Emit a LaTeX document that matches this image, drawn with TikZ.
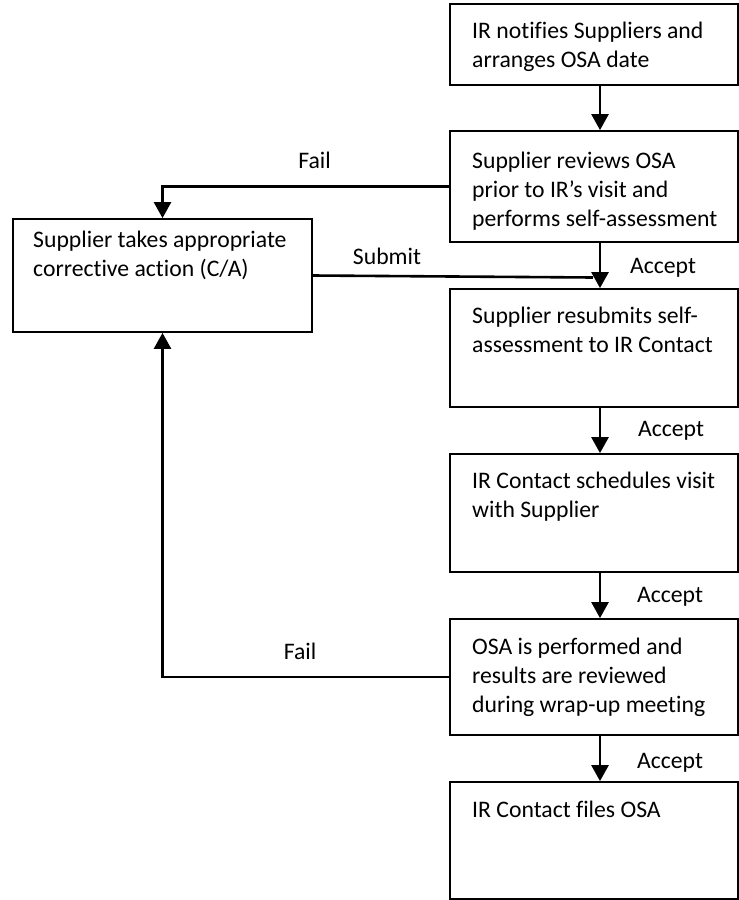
\documentclass[tikz,border=0pt]{standalone}
\usepackage{fontspec}
\setmainfont{Carlito}[Ligatures=NoCommon]
\usetikzlibrary{arrows.meta}
\begin{document}
\begin{tikzpicture}[x=1pt,y=-1pt,
  box/.style={draw,line width=1.8pt,rectangle,inner sep=0pt},
  rbox/.style={box,minimum width=288pt},
  txt/.style={anchor=north west,inner sep=0pt,align=left,
    font=\fontsize{23.7}{29}\selectfont},
  lbl/.style={anchor=base,inner sep=0pt,font=\fontsize{23.7}{29}\selectfont},
  conn/.style={line width=2.6pt,-{Triangle[width=17pt,length=16pt]}},
  wire/.style={line width=2.6pt}]
\useasboundingbox (0,0) rectangle (739,900);

% right column of process steps
\node[rbox,minimum height=81pt]  (notify)   at (594,44.5) {};
\node[rbox,minimum height=111pt] (review)   at (594,186.5) {};
\node[rbox,minimum height=118pt] (resubmit) at (594,348) {};
\node[rbox,minimum height=118pt] (schedule) at (594,513) {};
\node[rbox,minimum height=116pt] (perform)  at (594,677) {};
\node[rbox,minimum height=117pt] (files)    at (594,840.5) {};
% corrective action step on the left
\node[box,minimum width=299pt,minimum height=113pt] (corrective) at (162.5,275.5) {};

% step texts
\node[txt] (t1) at (472,21.5)  {IR notifies Suppliers and\\arranges OSA date};
\node[txt] (t2) at (472,152)   {Supplier reviews OSA\\prior to IR’s visit and\\performs self-assessment};
\node[txt] (t3) at (472,307)   {Supplier resubmits self-\\assessment to IR Contact};
\node[txt] (t4) at (472,472)   {IR Contact schedules visit\\with Supplier};
\node[txt] (t5) at (472,638)   {OSA is performed and\\results are reviewed\\during wrap-up meeting};
\node[txt] (t6) at (472,801)   {IR Contact files OSA};
\node[txt] (tc) at (33,231)    {Supplier takes appropriate\\corrective action (C/A)};

% main flow
\draw[conn] ([xshift=6pt]notify.south) -- ([xshift=6pt]review.north);
\draw[conn] ([xshift=6pt]review.south) -- ([xshift=6pt]resubmit.north);
\draw[conn] ([xshift=6pt]resubmit.south) -- ([xshift=6pt]schedule.north);
\draw[conn] ([xshift=6pt]schedule.south) -- ([xshift=6pt]perform.north);
\draw[conn] ([xshift=6pt]perform.south) -- ([xshift=6pt]files.north);

% failure loops and resubmission
\draw[conn] (review.west) -| (corrective.north);
\draw[conn] (perform.west) -| (corrective.south);
\coordinate (merge) at (593,277.5);
\draw[wire] (corrective.east) -- (merge);

% connector labels
\node[lbl] (a1) at (663,273) {Accept};
\node[lbl] (a2) at (671,436) {Accept};
\node[lbl] (a3) at (670,602) {Accept};
\node[lbl] (a4) at (670,768) {Accept};
\node[lbl] (f1) at (314.5,168) {Fail};
\node[lbl] (f2) at (300,659) {Fail};
\node[lbl] (s1) at (387,264) {Submit};
\end{tikzpicture}
\end{document}
